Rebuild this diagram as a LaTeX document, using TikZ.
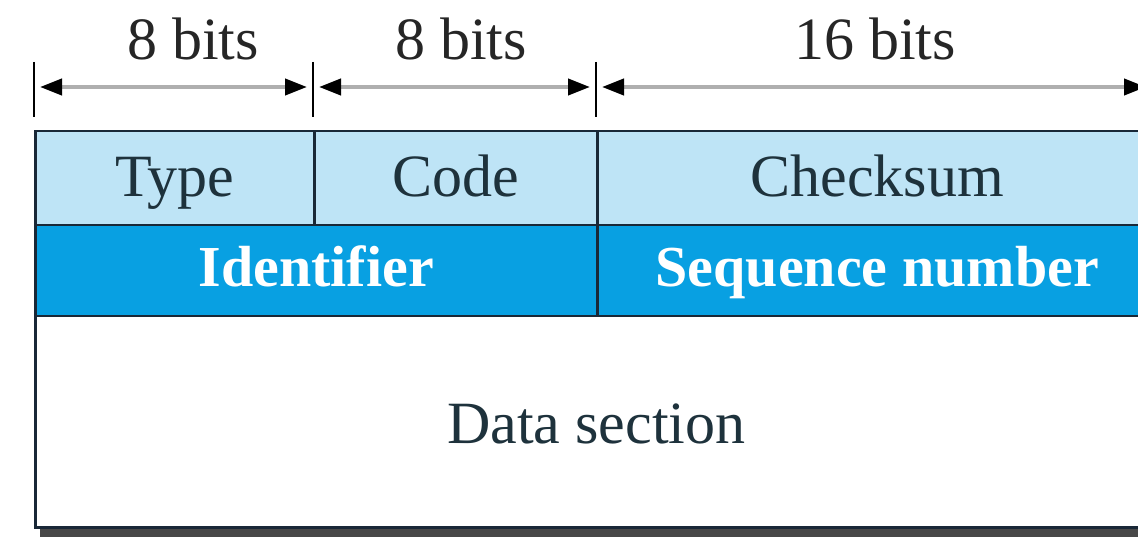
\documentclass[tikz,border=0pt]{standalone}
\usepackage{fontspec}
\setmainfont{Liberation Serif}
\usetikzlibrary{arrows.meta}
\definecolor{lightrow}{RGB}{190,228,246}
\definecolor{darkrow}{RGB}{8,160,226}
\definecolor{edgecol}{RGB}{25,40,55}
\definecolor{txtcol}{RGB}{30,50,60}
\definecolor{shadowcol}{RGB}{72,72,72}
\definecolor{dimline}{RGB}{175,175,175}
\begin{document}
\begin{tikzpicture}[x=1pt,y=-1pt,
  cell/.style={draw=edgecol, line width=2.5pt, anchor=north west, inner sep=0pt,
    font=\fontsize{60}{70}\selectfont, text=txtcol, text height=48pt, text depth=12pt},
  lightcell/.style={cell, fill=lightrow, minimum height=94pt},
  darkcell/.style={cell, fill=darkrow, minimum height=91pt, text=white,
    font=\fontsize{58}{68}\selectfont\bfseries, text height=43pt, text depth=12pt},
  datacell/.style={cell, fill=white, minimum height=211pt, text height=55pt, text depth=12pt},
  bitlabel/.style={anchor=base, inner sep=0pt, font=\fontsize{60}{70}\selectfont, text=black!85},
  tickline/.style={draw=black, line width=2.5pt},
  dimarrow/.style={draw=dimline, line width=4pt, shorten <=6pt, shorten >=6pt,
    {Triangle[length=22pt,width=16pt,color=black]}-{Triangle[length=22pt,width=16pt,color=black]}}
]
\useasboundingbox (0,0) rectangle (1138,537);
\clip (0,0) rectangle (1138,537);
\fill[white] (0,0) rectangle (1138,537);
% shadow
\fill[shadowcol] (40,524) rectangle (1160,537);
% cells
\node[datacell, minimum width=1122pt] (data) at (34,315) {Data section};
\node[darkcell, minimum width=562pt] (ident) at (34,224) {Identifier};
\node[darkcell, minimum width=560pt] (seq) at (596,224) {Sequence number};
\node[lightcell, minimum width=279pt] (type) at (34,130) {Type};
\node[lightcell, minimum width=283pt] (code) at (313,130) {Code};
\node[lightcell, minimum width=560pt] (chk) at (596,130) {Checksum};
% ticks
\coordinate (a0) at (34,62);  \coordinate (b0) at (34,117);
\coordinate (a1) at (313,62); \coordinate (b1) at (313,117);
\coordinate (a2) at (596,62); \coordinate (b2) at (596,117);
\draw[tickline] (a0) -- (b0);
\draw[tickline] (a1) -- (b1);
\draw[tickline] (a2) -- (b2);
\coordinate (m0) at (34,87);
\coordinate (m1) at (313,87);
\coordinate (m2) at (596,87);
\coordinate (m3) at (1152,87);
\draw[dimarrow] (m0) -- (m1);
\draw[dimarrow] (m1) -- (m2);
\draw[dimarrow] (m2) -- (m3);
% labels
\node[bitlabel] (l1) at (193,60) {8 bits};
\node[bitlabel] (l2) at (461,60) {8 bits};
\node[bitlabel] (l3) at (875,60) {16 bits};
\end{tikzpicture}
\end{document}
